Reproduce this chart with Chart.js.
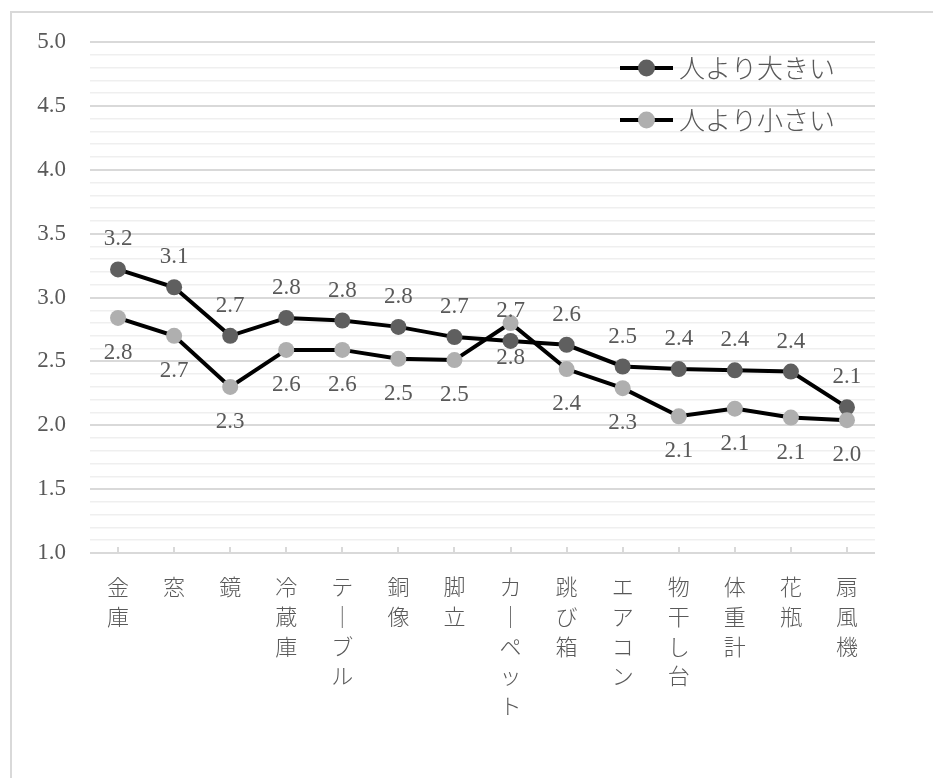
<!DOCTYPE html>
<html lang="ja">

<head>
  <meta charset="UTF-8">
  <title>人より大きい / 人より小さい</title>
  <script src="https://cdn.jsdelivr.net/npm/chart.js"></script>
  <style>
    html, body {
      margin: 0;
      padding: 0;
      background: #fff;
      overflow: hidden;
    }
    #frame {
      position: absolute;
      left: 10px;
      top: 11px;
      width: 2000px;
      height: 2000px;
      border: 2px solid #d9d9d9;
    }
    #chartContainer {
      position: absolute;
      left: 0;
      top: 0;
      width: 933px;
      height: 778px;
    }
  </style>
</head>

<body>
  <div id="frame"></div>
  <div id="chartContainer">
    <canvas id="lineSize"></canvas>
  </div>

  <script>
    const categories = ['金庫', '窓', '鏡', '冷蔵庫', 'テーブル', '銅像', '脚立', 'カーペット', '跳び箱', 'エアコン', '物干し台', '体重計', '花瓶', '扇風機'];
    const seriesNames = ['人より大きい', '人より小さい'];
    const larger = [3.22, 3.08, 2.70, 2.84, 2.82, 2.77, 2.69, 2.66, 2.63, 2.46, 2.44, 2.43, 2.42, 2.14];
    const smaller = [2.84, 2.70, 2.30, 2.59, 2.59, 2.52, 2.51, 2.80, 2.44, 2.29, 2.07, 2.13, 2.06, 2.04];

    const textColor = '#595959';
    const numFont = "'Liberation Serif', 'DejaVu Serif', serif";
    const jpFont = "'Noto Sans CJK JP', sans-serif";

    // value labels: first series above the points, second below
    const valueLabels = {
      id: 'valueLabels',
      afterDatasetsDraw(chart) {
        const ctx = chart.ctx;
        const shift = [-30, 35];
        ctx.save();
        ctx.fillStyle = textColor;
        ctx.font = '23px ' + numFont;
        ctx.textAlign = 'center';
        ctx.textBaseline = 'middle';
        chart.data.datasets.forEach((ds, i) => {
          chart.getDatasetMeta(i).data.forEach((pt, j) => {
            ctx.fillText(ds.data[j].toFixed(1), pt.x, pt.y + shift[i]);
          });
        });
        ctx.restore();
      }
    };

    // legend sitting inside the plot, top right
    const innerLegend = {
      id: 'innerLegend',
      afterDraw(chart) {
        const ctx = chart.ctx;
        const x0 = chart.chartArea.right - 255;
        const rows = [68, 120];
        ctx.save();
        chart.data.datasets.forEach((ds, i) => {
          const y = rows[i];
          ctx.strokeStyle = ds.borderColor;
          ctx.lineWidth = 4;
          ctx.beginPath();
          ctx.moveTo(x0, y);
          ctx.lineTo(x0 + 53, y);
          ctx.stroke();
          ctx.fillStyle = ds.pointBackgroundColor;
          ctx.beginPath();
          ctx.arc(x0 + 26.5, y, 8.5, 0, Math.PI * 2);
          ctx.fill();
          ctx.fillStyle = textColor;
          ctx.font = '300 26px ' + jpFont;
          ctx.textAlign = 'left';
          ctx.textBaseline = 'middle';
          ctx.fillText(ds.label, x0 + 59, y);
        });
        ctx.restore();
      }
    };

    const isMajor = v => Math.round(v * 10) % 5 === 0;

    const ctx = document.getElementById('lineSize').getContext('2d');
    new Chart(ctx, {
      type: 'line',
      data: {
        labels: categories,
        datasets: [
          {
            label: seriesNames[0],
            data: larger,
            borderColor: '#000000',
            borderWidth: 4,
            pointRadius: 8,
            pointHoverRadius: 8,
            pointBorderWidth: 0,
            pointBackgroundColor: '#5f5f5f',
            pointBorderColor: '#5f5f5f',
            tension: 0,
            order: 1
          },
          {
            label: seriesNames[1],
            data: smaller,
            borderColor: '#000000',
            borderWidth: 4,
            pointRadius: 8,
            pointHoverRadius: 8,
            pointBorderWidth: 0,
            pointBackgroundColor: '#afafaf',
            pointBorderColor: '#afafaf',
            tension: 0,
            order: 0
          }
        ]
      },
      options: {
        responsive: true,
        maintainAspectRatio: false,
        animation: false,
        layout: {
          padding: { left: 0, right: 58, top: 42, bottom: 0 }
        },
        plugins: {
          legend: { display: false },
          tooltip: { enabled: false }
        },
        scales: {
          x: {
            offset: true,
            afterFit: s => { s.height = 225; },
            border: { display: false },
            grid: {
              offset: false,
              drawOnChartArea: false,
              drawTicks: true,
              tickLength: -6,
              color: '#d9d9d9',
              lineWidth: 2
            },
            ticks: {
              autoSkip: false,
              maxRotation: 0,
              minRotation: 0,
              padding: 25,
              color: textColor,
              font: { family: jpFont, size: 22, weight: '300', lineHeight: 1.35 },
              callback: function (v) {
                return this.getLabelForValue(v).replace(/ー/g, '｜').split('');
              }
            }
          },
          y: {
            min: 1,
            max: 5,
            afterFit: s => { s.width = 90; },
            border: { display: false },
            grid: {
              drawTicks: false,
              color: c => (c.tick && isMajor(c.tick.value)) ? '#d9d9d9' : '#efefef',
              lineWidth: c => (c.tick && isMajor(c.tick.value)) ? 2 : 1.5
            },
            ticks: {
              stepSize: 0.1,
              autoSkip: false,
              padding: 24,
              color: textColor,
              font: { family: numFont, size: 23 },
              callback: v => isMajor(v) ? v.toFixed(1) : ''
            }
          }
        }
      },
      plugins: [valueLabels, innerLegend]
    });
  </script>
</body>

</html>
